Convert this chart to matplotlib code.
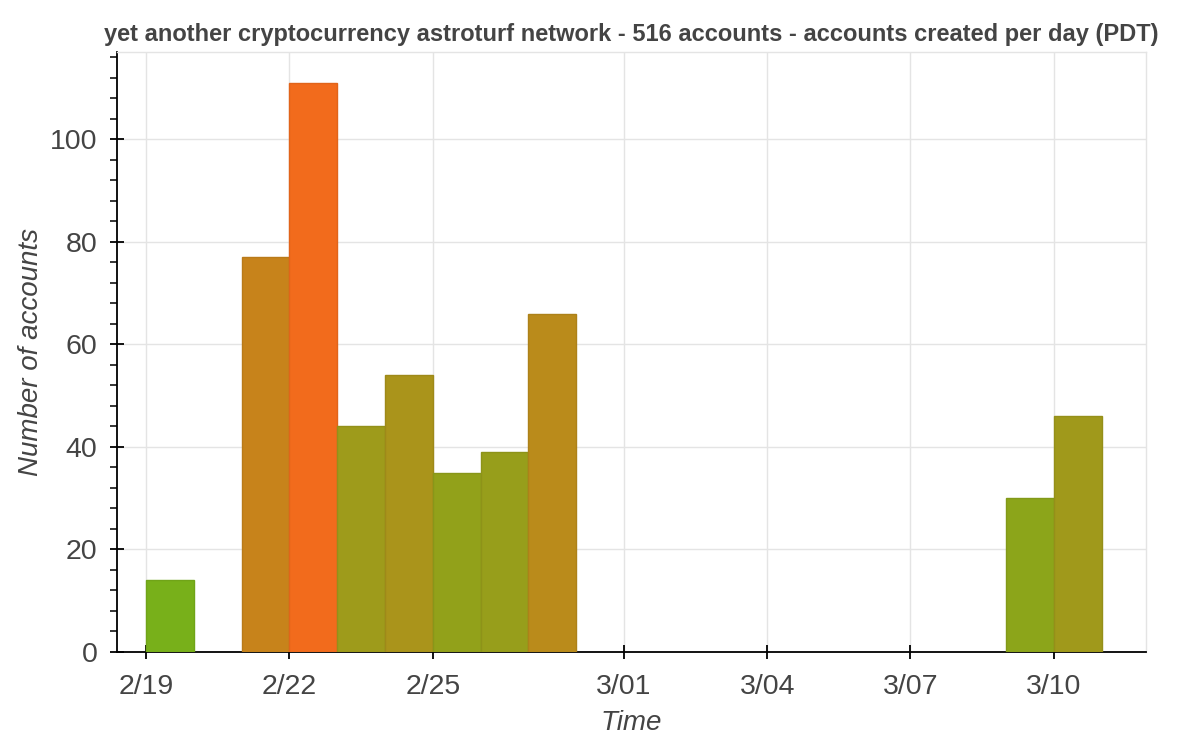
import numpy as np
import pandas as pd
import matplotlib
matplotlib.use("Agg")
import matplotlib.pyplot as plt
import matplotlib.dates as mdates
from matplotlib.colors import LinearSegmentedColormap, Normalize

plt.rcParams['font.family'] = ['Liberation Sans', 'DejaVu Sans']

# accounts created per day (PDT)
days = ['2018-02-19', '2018-02-21', '2018-02-22', '2018-02-23', '2018-02-24',
        '2018-02-25', '2018-02-26', '2018-02-27', '2018-03-09', '2018-03-10']
counts = [14, 77, 111, 44, 54, 35, 39, 66, 30, 46]

tick_days = ['2018-02-19', '2018-02-22', '2018-02-25', '2018-03-01',
             '2018-03-04', '2018-03-07', '2018-03-10']
tick_labels = ['2/19', '2/22', '2/25', '3/01', '3/04', '3/07', '3/10']
y_ticks = [0, 20, 40, 60, 80, 100]

TITLE = "yet another cryptocurrency astroturf network - 516 accounts - accounts created per day (PDT)"
TEXT = '#444444'

dates = pd.to_datetime(days)
x = mdates.date2num(dates)

# colour by count, green (low) -> orange (high)
cmap = LinearSegmentedColormap.from_list('g2o', ['#78b01a', '#f26b1c'])
norm = Normalize(vmin=min(counts), vmax=max(counts))
fills = [cmap(norm(c)) for c in counts]
edges = [tuple(v * 0.93 for v in f[:3]) for f in fills]

fig = plt.figure(figsize=(12, 7.47), dpi=100)
ax = fig.add_axes([0.0975, 0.1272, 0.8575, 0.8028])

ax.bar(x, counts, width=1.0, align='edge', color=fills, edgecolor=edges,
       linewidth=1.0, zorder=3)

xt = mdates.date2num(pd.to_datetime(tick_days))
ax.set_xticks(xt)
ax.set_xticklabels(tick_labels)
ax.set_xlim(x[0] - 0.61, x[-1] + 1.93)

ax.set_yticks(y_ticks)
ax.set_yticks(np.arange(0, 117, 4), minor=True)
ax.set_ylim(0, 117)

ax.grid(True, which='major', color='#e4e4e4', linewidth=1.0, zorder=0)
ax.set_axisbelow(True)

for side in ['top', 'right']:
    ax.spines[side].set_color('#e4e4e4')
    ax.spines[side].set_linewidth(1.0)
for side in ['left', 'bottom']:
    ax.spines[side].set_color('black')
    ax.spines[side].set_linewidth(1.3)

ax.tick_params(axis='both', which='major', direction='inout', length=10,
               width=1.3, color='black', labelsize=20.5, labelcolor=TEXT)
ax.tick_params(axis='x', which='major', pad=11)
ax.tick_params(axis='y', which='major', pad=9)
ax.tick_params(axis='y', which='minor', direction='out', length=5,
               width=1.1, color='black')

ax.set_xlabel('Time', fontsize=20, style='italic', color=TEXT, labelpad=7)
ax.set_ylabel('Number of accounts', fontsize=20, style='italic', color=TEXT,
              labelpad=4)

fig.text(104 / 1200, 1 - 34 / 747, TITLE, fontsize=17, fontweight='bold',
         color=TEXT, ha='left', va='center')

fig.savefig('out.png', dpi=100, facecolor='white')
